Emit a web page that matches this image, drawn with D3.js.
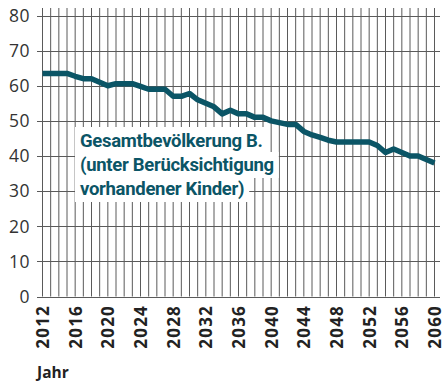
<!DOCTYPE html>
<html>
<head>
<meta charset="utf-8">
<script src="https://cdn.jsdelivr.net/npm/d3@7/dist/d3.min.js"></script>
<style>
  html, body { margin: 0; padding: 0; background: #fff; }
  svg { display: block; }
</style>
</head>
<body>
<svg id="chart" width="445" height="382"></svg>
<script>
// Population projection, values per year
const years = d3.range(2012, 2061);
const population = [
  63.5, 63.5, 63.5, 63.5, 62.7, 62, 62, 61, 60, 60.6,
  60.6, 60.6, 59.8, 59, 59, 59, 57, 57, 57.8, 56,
  55, 54, 52, 53, 52, 52, 51, 51, 50, 49.5,
  49, 49, 47, 46, 45.3, 44.5, 44, 44, 44, 44,
  44, 43, 41, 42, 41, 40, 40, 39, 38
];
const yTicks = [0, 10, 20, 30, 40, 50, 60, 70, 80];
const xTickYears = d3.range(2012, 2061, 4);
const labelLines = ["Gesamtbevölkerung B.", "(unter Berücksichtigung", "vorhandener Kinder)"];
const axisTitle = "Jahr";

const svg = d3.select("#chart");
const x = d3.scaleLinear().domain([2012, 2060]).range([42.5, 434.5]);
const y = d3.scaleLinear().domain([0, 80]).range([296.5, 15.5]);

const lineColor = "#0b5566";
const gridColor = "#5a5a5a";

// vertical year grid
svg.append("g")
  .selectAll("line")
  .data(years)
  .join("line")
  .attr("x1", d => x(d)).attr("x2", d => x(d))
  .attr("y1", 8).attr("y2", y(0))
  .attr("stroke", gridColor)
  .attr("stroke-width", 1);

// horizontal value grid with outward ticks
svg.append("g")
  .selectAll("line")
  .data(yTicks)
  .join("line")
  .attr("x1", 37).attr("x2", 440)
  .attr("y1", d => Math.round(y(d)) + 0.5).attr("y2", d => Math.round(y(d)) + 0.5)
  .attr("stroke", gridColor)
  .attr("stroke-width", 1);

// y tick labels
svg.append("g")
  .selectAll("text")
  .data(yTicks)
  .join("text")
  .attr("x", 30)
  .attr("y", d => y(d))
  .attr("dy", "0.36em")
  .attr("text-anchor", "end")
  .attr("font-family", "'Open Sans', sans-serif")
  .attr("font-size", 17.5)
  .attr("letter-spacing", 0.5)
  .attr("fill", "#333")
  .text(d => d);

// x tick labels, rotated
svg.append("g")
  .selectAll("text")
  .data(xTickYears)
  .join("text")
  .attr("transform", d => `translate(${x(d) + 6.5},305) rotate(-90)`)
  .attr("text-anchor", "end")
  .attr("font-family", "'Open Sans', sans-serif")
  .attr("font-weight", 700)
  .attr("font-size", 17)
  .attr("letter-spacing", 1.2)
  .attr("fill", "#222")
  .text(d => d);

// axis title
svg.append("text")
  .attr("x", 37).attr("y", 378)
  .attr("font-family", "'Open Sans', sans-serif")
  .attr("font-weight", 700)
  .attr("font-size", 15.5)
  .attr("fill", "#222")
  .text(axisTitle);

// population line
const line = d3.line()
  .x((d, i) => x(years[i]))
  .y(d => y(d))
  .curve(d3.curveLinear);

svg.append("path")
  .datum(population)
  .attr("d", line)
  .attr("fill", "none")
  .attr("stroke", lineColor)
  .attr("stroke-width", 5.5)
  .attr("stroke-linejoin", "round")
  .attr("stroke-linecap", "butt");

// series label with white backing per line
const label = svg.append("g");
const baselines = [147, 171, 195];
const bg = label.append("g");
const texts = label.append("g")
  .selectAll("text")
  .data(labelLines)
  .join("text")
  .attr("x", 80)
  .attr("y", (d, i) => baselines[i])
  .attr("font-family", "Roboto, sans-serif")
  .attr("font-weight", 700)
  .attr("font-size", 18.5)
  .attr("letter-spacing", -0.3)
  .attr("fill", lineColor)
  .text(d => d);

texts.each(function (d, i) {
  const w = this.getComputedTextLength();
  const top = i === 0 ? baselines[i] - 20 : baselines[i - 1] + 5;
  const bottom = baselines[i] + 7;
  bg.append("rect")
    .attr("x", 75)
    .attr("y", top)
    .attr("width", w + 10)
    .attr("height", bottom - top)
    .attr("fill", "#fff");
});
</script>
</body>
</html>
